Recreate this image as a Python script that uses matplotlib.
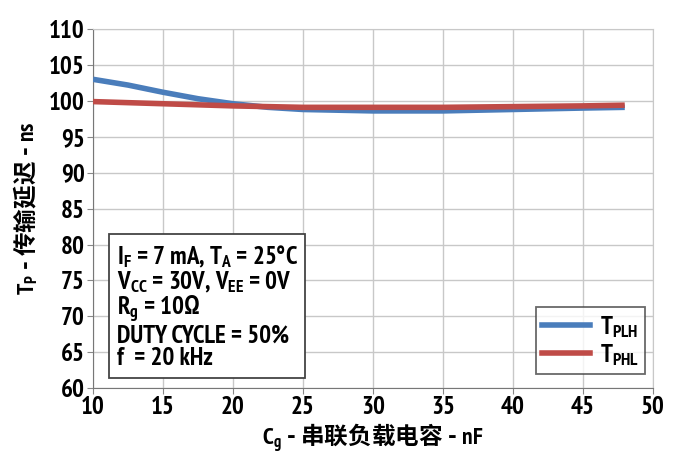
import matplotlib
matplotlib.use("Agg")
import matplotlib.pyplot as plt
from matplotlib import font_manager
from matplotlib.lines import Line2D

# pick a condensed bold face close to the reference's narrow font
available = {f.name for f in font_manager.fontManager.ttflist}
candidates = ['PT Sans Narrow', 'Fira Sans Condensed', 'Archivo Narrow',
              'Roboto Condensed', 'Open Sans Condensed', 'Liberation Sans Narrow']
narrow = next((c for c in candidates if c in available), 'DejaVu Sans')
cjk = 'Noto Sans CJK SC'

plt.rcParams['font.family'] = [narrow, cjk, 'DejaVu Sans']
plt.rcParams['font.weight'] = 'bold'
plt.rcParams['mathtext.fontset'] = 'custom'
plt.rcParams['mathtext.rm'] = narrow + ':bold'
plt.rcParams['mathtext.bf'] = narrow + ':bold'
plt.rcParams['mathtext.it'] = narrow + ':bold'

# data
cap_nf = [10, 12.5, 15, 17.5, 20, 22.5, 25, 30, 35, 40, 45, 48]
t_plh = [103.0, 102.2, 101.2, 100.3, 99.6, 99.1, 98.8, 98.6, 98.6, 98.8, 99.0, 99.1]
t_phl = [99.9, 99.75, 99.6, 99.45, 99.3, 99.2, 99.1, 99.1, 99.1, 99.2, 99.3, 99.4]
x_ticks = list(range(10, 51, 5))
y_ticks = list(range(60, 111, 5))

blue = '#4a7dbb'
red = '#bf4b47'

fig = plt.figure(figsize=(6.76, 4.61), dpi=100)
ax = fig.add_axes([0.1376, 0.158, 0.828, 0.779])

ax.plot(cap_nf, t_plh, color=blue, lw=4, solid_capstyle='butt', zorder=3)
ax.plot(cap_nf, t_phl, color=red, lw=4, solid_capstyle='butt', zorder=4)

ax.set_xlim(10, 50)
ax.set_ylim(60, 110)
ax.set_xticks(x_ticks)
ax.set_yticks(y_ticks)
ax.tick_params(labelsize=18, length=4, color='#888888', pad=2)
for lab in ax.get_xticklabels() + ax.get_yticklabels():
    lab.set_fontweight('bold')
ax.grid(True, color='#c8c8c8', lw=1)
ax.set_axisbelow(True)
for s in ['top', 'right']:
    ax.spines[s].set_color('#c8c8c8')
for s in ['left', 'bottom']:
    ax.spines[s].set_color('#777777')

# non-math parts use the text's own (CJK) font, math parts the narrow one
ax.set_xlabel('$\\mathbf{C_g}$ - 串联负载电容 - $\\mathbf{nF}$', family=cjk,
              fontsize=17, fontweight='bold', labelpad=2)
ax.set_ylabel('$\\mathbf{T_P}$ - 传输延迟 - $\\mathbf{ns}$', family=cjk,
              fontsize=17, fontweight='bold', labelpad=6)

cond = ('I$_\\mathbf{F}$ = 7 mA, T$_\\mathbf{A}$ = 25°C\n'
        'V$_\\mathbf{CC}$ = 30V, V$_\\mathbf{EE}$ = 0V\n'
        'R$_\\mathbf{g}$ = 10Ω\n'
        'DUTY CYCLE = 50%\n'
        'f  = 20 kHz')
ax.text(0.042, 0.405, cond, transform=ax.transAxes, fontsize=18, fontweight='bold',
        va='top', ha='left', linespacing=0.97,
        bbox=dict(boxstyle='square,pad=0.3', fc='white', ec='#444444', lw=1.3))

handles = [Line2D([], [], color=blue, lw=4), Line2D([], [], color=red, lw=4)]
leg = ax.legend(handles, ['T$_\\mathbf{PLH}$', 'T$_\\mathbf{PHL}$'], loc='lower right',
                bbox_to_anchor=(0.986, 0.039), fontsize=18, frameon=True, fancybox=False,
                edgecolor='#444444', handlelength=1.9, handletextpad=0.4,
                borderpad=0.25, borderaxespad=0, labelspacing=0.1)
leg.get_frame().set_linewidth(1.3)
for t in leg.get_texts():
    t.set_fontweight('bold')

fig.savefig('out.png', dpi=100)
